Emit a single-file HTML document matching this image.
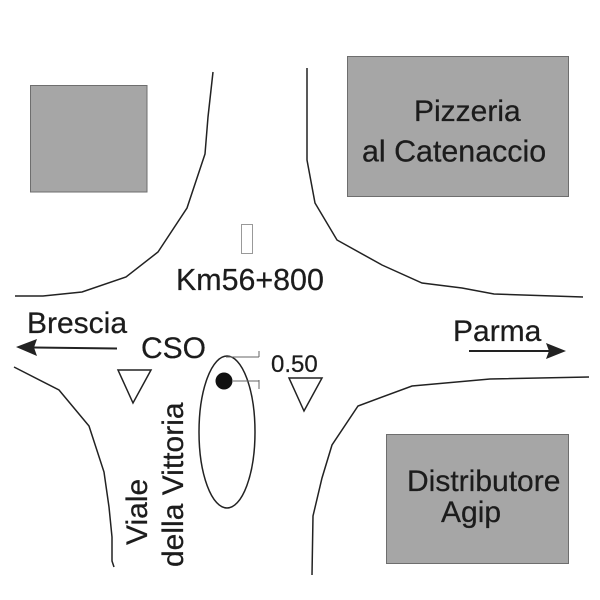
<!DOCTYPE html>
<html><head><meta charset="utf-8"><style>html,body{margin:0;padding:0;background:#fff}svg{display:block}text{font-family:"Liberation Sans",sans-serif;fill:#1c1c1c;stroke:#1c1c1c;stroke-width:0.25px}</style></head>
<body><svg width="600" height="600" viewBox="0 0 600 600" xmlns="http://www.w3.org/2000/svg">
<g fill="#a6a6a6" stroke="#6e6e6e" stroke-width="1">
<rect x="30.500" y="85.500" width="116.500" height="106.500"/>
<rect x="347.500" y="56.500" width="221" height="140"/>
<rect x="386.500" y="434.500" width="182" height="129"/>
</g>
<g fill="none" stroke="#222" stroke-width="1.500">
<path d="M213 72L208 117L205 154L187 208L158 252L126 277L82 292L43 296L15 296"/>
<path d="M307 68L307 160L315 203L337 240L382 265L422 283L462 288L494 294L583 297"/>
<path d="M14 367L59 390L89 426L104 472L109 507L112 537L112 561L114 567"/>
<path d="M312 575L313 516L322 478L332 445L358 406L412 386L490 379L589 377"/>
<ellipse cx="227" cy="432" rx="28" ry="76"/>
<path d="M118 370H151L133 403Z"/>
<path d="M289 378H322L304 411Z"/>
</g>
<rect x="241.500" y="224.500" width="11" height="29" fill="#fff" stroke="#999" stroke-width="1"/>
<circle cx="224" cy="381" r="8.500" fill="#111"/>
<g fill="none" stroke="#666" stroke-width="1">
<path d="M226 357H259M259 351V357M233 381H259M259 380V389"/>
</g>
<path d="M34 347.500L117 348.500" stroke="#222" stroke-width="2"/>
<path d="M16 347L37 339L34 347.500L37 356Z" fill="#222"/>
<path d="M469 351H550" stroke="#222" stroke-width="2"/>
<path d="M566 351L546 343L549 351L546 359Z" fill="#222"/>
<text x="414" y="121" font-size="30">Pizzeria</text>
<text x="362" y="161.500" font-size="30.400">al Catenaccio</text>
<text x="176" y="290" font-size="30.400">Km56+800</text>
<text x="27" y="333" font-size="30">Brescia</text>
<text x="141" y="358" font-size="30">CSO</text>
<text x="453" y="341" font-size="30">Parma</text>
<text x="271" y="372" font-size="24">0.50</text>
<text x="407" y="491" font-size="30">Distributore</text>
<text x="441" y="522" font-size="30">Agip</text>
<text transform="translate(147,545) rotate(-90)" font-size="30">Viale</text>
<text transform="translate(183,567) rotate(-90)" font-size="30">della Vittoria</text>
</svg></body></html>
